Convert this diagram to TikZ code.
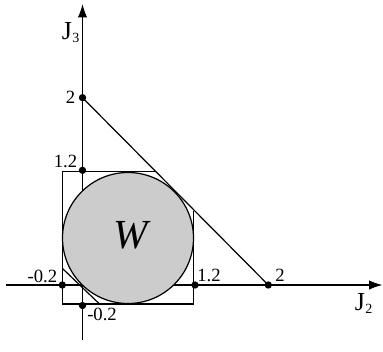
\documentclass[tikz,border=0pt]{standalone}
\usepackage{fontspec}
\setmainfont{Liberation Serif}
\usetikzlibrary{arrows.meta}
\definecolor{wfill}{RGB}{204,204,204}
\tikzset{
  axisline/.style={line width=1pt,-{Latex[length=10pt,width=7pt]}},
  thinline/.style={line width=0.9pt},
  dotpt/.style={circle,fill=black,inner sep=0pt,minimum size=5.5pt},
  num/.style={inner sep=0pt,font=\fontsize{14}{14}\selectfont},
  axlabel/.style={inner sep=0pt},
}
\newcommand{\axname}[1]{{\fontsize{19.5}{19.5}\selectfont J\kern0.3pt\raisebox{-2.5pt}{\fontsize{10.5}{10.5}\selectfont #1}}}
\begin{document}
\begin{tikzpicture}[x=0.75pt,y=-0.75pt]
\useasboundingbox (0,0) rectangle (383,351);
% coordinates
\coordinate (xs) at (6,285);
\coordinate (xe) at (382.5,285);
\coordinate (ys) at (82.5,340);
\coordinate (ye) at (82.5,4);
\coordinate (p2v) at (82.5,97.7);
\coordinate (p12v) at (82.5,170.3);
\coordinate (pm2h) at (62.3,285);
\coordinate (pm2v) at (82.5,305.5);
\coordinate (p12h) at (195,285);
\coordinate (p2h) at (268.3,285);
\coordinate (sq1) at (155.5,171.5);
\coordinate (sq2) at (62.3,171.5);
\coordinate (sq3) at (62.3,304);
\coordinate (sq4) at (193.3,304);
\coordinate (sq5) at (193.3,210.5);
\coordinate (t1) at (62.3,268.3);
\coordinate (t2) at (99.5,304);
\coordinate (cc) at (128,238);
% axes
\draw[axisline] (xs) -- (xe);
\draw[axisline] (ys) -- (ye);
% region W
\fill[wfill] (cc) circle[radius=65.5];
\draw[thinline] (cc) circle[radius=65.5];
% square and tangent lines
\draw[thinline] (sq1) -- (sq2) -- (sq3) -- (sq4) -- (sq5);
\draw[thinline] (p2v) -- (p2h);
\draw[thinline] (t1) -- (t2);
% points
\foreach \p in {p2v,p12v,pm2h,pm2v,p12h,p2h} \node[dotpt] at (\p) {};
% labels
\node[num,anchor=base east] (l2v) at (75.5,103.3) {2};
\node[num,anchor=base east] (l12v) at (77.5,167) {1.2};
\node[num,anchor=base east] (lm2h) at (57.5,282.5) {-0.2};
\node[num,anchor=base west] (lm2v) at (87,320) {-0.2};
\node[num,anchor=base west] (l12h) at (197,281.7) {1.2};
\node[num,anchor=base west] (l2h) at (275,281.7) {2};
\node[inner sep=0pt,anchor=base,font=\fontsize{31}{31}\selectfont\itshape] (w) at (131,248.3) {W};
\node[axlabel,anchor=base west] (j3) at (61.5,39) {\axname{3}};
\node[axlabel,anchor=base west] (j2) at (354.5,310) {\axname{2}};
\end{tikzpicture}
\end{document}
